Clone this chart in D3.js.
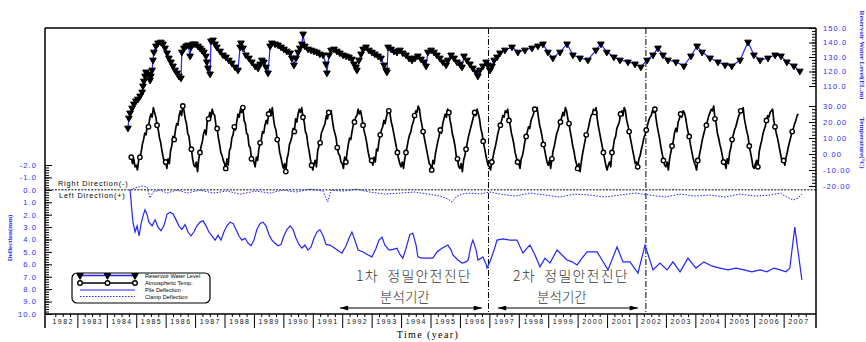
<!DOCTYPE html>
<html><head><meta charset="utf-8">
<script src="https://cdn.jsdelivr.net/npm/d3@7"></script>
<style>body{margin:0;background:#fff;} svg{display:block}</style>
</head><body><svg id="c" width="866" height="342"></svg>
<script>
// ---------------- DATA ----------------
const years = d3.range(1982, 2008);
const levelTicks = [150, 140, 130, 120, 110];
const tempTicks = [30, 20, 10, 0, -10, -20];
const deflTicks = d3.range(-2, 11);

// Reservoir water level [year, EL.m]
const waterLevel = [
[1984.72,81.0],[1984.75,87.9],[1984.79,91.4],[1984.86,94.8],[1984.92,97.6],[1984.99,99.7],[1985.06,101.0],[1985.13,103.1],
[1985.20,105.9],[1985.23,110.0],[1985.26,113.4],[1985.30,116.9],[1985.33,119.7],[1985.40,118.3],[1985.47,114.1],[1985.50,116.9],
[1985.54,121.0],[1985.57,127.9],[1985.60,133.4],[1985.67,137.6],[1985.74,139.7],[1985.84,140.3],[1985.91,139.0],[1985.98,136.2],
[1986.05,132.8],[1986.11,129.3],[1986.18,126.6],[1986.25,123.8],[1986.32,121.0],[1986.39,119.0],[1986.45,116.9],[1986.52,115.5],
[1986.55,133.4],[1986.62,136.2],[1986.69,137.6],[1986.76,138.3],[1986.83,130.7],[1986.86,136.9],[1986.93,139.0],[1987.00,139.0],
[1987.10,137.6],[1987.17,136.2],[1987.23,134.8],[1987.30,133.4],[1987.37,130.7],[1987.40,126.6],[1987.44,122.4],[1987.51,118.3],
[1987.54,141.0],[1987.61,141.7],[1987.68,139.0],[1987.74,136.9],[1987.85,134.1],[1987.95,131.4],[1988.05,130.0],[1988.15,127.9],
[1988.25,125.9],[1988.36,123.1],[1988.46,121.0],[1988.53,136.9],[1988.56,139.7],[1988.63,136.2],[1988.73,131.4],[1988.83,129.3],
[1988.93,126.6],[1989.04,123.8],[1989.14,122.4],[1989.21,125.2],[1989.27,127.9],[1989.34,126.6],[1989.41,123.1],[1989.48,119.0],
[1989.55,137.6],[1989.61,139.7],[1989.72,139.0],[1989.82,138.3],[1989.92,136.9],[1990.02,135.5],[1990.12,134.1],[1990.23,132.8],
[1990.29,129.3],[1990.36,124.5],[1990.43,129.3],[1990.50,133.4],[1990.56,136.2],[1990.63,139.0],[1990.67,145.9],[1990.73,137.6],
[1990.84,135.5],[1990.94,134.8],[1991.04,134.1],[1991.14,133.4],[1991.24,132.1],[1991.35,131.4],[1991.45,125.2],[1991.48,119.0],
[1991.55,131.4],[1991.62,134.8],[1991.72,135.5],[1991.82,134.1],[1991.92,132.8],[1992.03,131.4],[1992.13,130.7],[1992.23,130.0],
[1992.33,128.6],[1992.40,125.2],[1992.47,123.1],[1992.50,121.0],[1992.57,127.9],[1992.64,132.1],[1992.71,135.5],[1992.81,136.9],
[1992.91,134.8],[1993.01,133.4],[1993.11,132.1],[1993.22,130.7],[1993.32,129.3],[1993.42,124.5],[1993.49,121.0],[1993.52,119.7],
[1993.56,136.9],[1993.66,135.5],[1993.76,134.1],[1993.86,133.4],[1993.96,134.8],[1994.06,132.8],[1994.17,131.4],[1994.27,129.3],
[1994.37,127.9],[1994.47,129.3],[1994.57,130.7],[1994.68,128.6],[1994.78,126.6],[1994.85,123.8],[1994.91,133.4],[1995.02,134.8],
[1995.12,133.4],[1995.22,131.4],[1995.32,129.3],[1995.42,126.6],[1995.53,124.5],[1995.59,127.9],[1995.70,131.4],[1995.80,129.3],
[1995.90,126.6],[1996.00,125.2],[1996.07,123.1],[1996.14,130.7],[1996.24,127.9],[1996.34,125.2],[1996.44,122.4],[1996.55,119.7],
[1996.61,116.9],[1996.68,121.0],[1996.78,123.8],[1996.89,126.6],[1996.95,124.5],[1997.02,121.0],[1997.09,123.8],[1997.16,127.9],
[1997.26,130.0],[1997.36,132.8],
[1997.53,134.8],[1997.77,136.9],[1997.97,133.4],[1998.21,134.8],[1998.45,136.2],[1998.65,137.6],[1998.82,139.0],[1998.99,133.4],
[1999.16,129.3],[1999.40,133.4],[1999.64,139.0],[1999.84,131.4],[2000.08,129.3],[2000.35,127.9],[2000.62,134.8],[2000.79,139.0],
[2000.99,133.4],[2001.23,130.0],[2001.44,127.9],[2001.71,126.6],[2001.95,125.2],[2002.15,123.1],[2002.36,127.9],[2002.56,131.4],
[2002.73,136.2],[2002.90,131.4],[2003.07,127.9],[2003.34,126.6],[2003.61,123.8],[2003.85,130.7],[2004.06,137.6],[2004.23,133.4],
[2004.50,129.3],[2004.77,126.6],[2005.01,124.5],[2005.24,123.8],[2005.52,127.9],[2005.79,140.3],[2005.99,131.4],[2006.20,127.9],
[2006.47,129.3],[2006.71,131.4],[2006.91,130.7],[2007.11,126.6],[2007.35,123.8],[2007.55,120.3]
];

// Atmospheric temperature (deg C), twice a month from Nov 1984
const tempStart = 1984.833;
const tempStep = 1 / 24;
const temperature = [
-2,-6,-3,-8,
-7,-10,-4,-2,1,6,9,13,12,18,17,22,25,23,29,26,23,18,15,10,7,2,-2,-6,
-5,-9,-3,-6,2,5,11,9,15,19,18,24,27,24,30,27,22,19,13,11,5,3,-3,-7,
-8,-5,-11,-3,1,5,8,13,15,12,21,22,26,23,28,25,24,18,16,10,6,1,-1,-4,
-6,-9,-3,-7,2,4,10,12,17,15,20,25,23,28,26,29,21,19,13,12,5,4,-3,-2,
-5,-8,-2,-4,3,7,9,14,13,18,21,19,25,28,24,29,22,17,15,9,7,1,-2,-6,
-9,-6,-11,-3,0,6,8,11,16,14,22,20,25,28,26,29,23,20,14,12,6,2,-3,-7,
-10,-6,-4,-8,2,5,7,13,15,17,19,24,22,26,25,27,21,16,13,10,4,0,-1,-5,
-6,-9,-2,-5,1,6,10,9,14,18,20,23,24,28,25,27,23,18,14,11,7,2,-2,-4,
-4,-7,-2,-5,3,2,8,12,15,17,21,19,23,26,27,25,20,17,13,9,5,1,-3,-6,
-8,-5,-9,-3,1,5,9,12,14,18,20,24,27,26,30,28,22,18,14,10,6,2,-2,-6,
-7,-10,-4,-6,0,4,8,11,15,13,19,22,25,23,28,26,21,17,12,9,5,-1,-3,-8,
-9,-6,-11,-4,-1,3,7,11,14,17,20,23,26,24,28,25,22,16,13,8,4,0,-4,-7,
-8,-10,-5,-2,2,5,9,13,16,18,21,24,23,27,26,28,21,18,13,10,6,1,-2,-5,
-6,-9,-3,-1,3,8,11,14,17,16,21,23,25,28,27,29,23,18,15,11,6,3,-1,-5,
-7,-4,-9,-3,2,5,9,13,15,18,20,23,26,24,29,27,22,19,14,10,5,2,-3,-6,
-9,-6,-11,-5,0,4,8,12,14,17,21,24,25,28,26,29,22,17,13,9,5,1,-3,-7,
-10,-7,-5,-8,1,4,9,11,16,18,20,25,27,24,29,27,21,18,14,10,6,2,-2,-6,
-5,-8,-3,-1,3,6,10,12,15,18,21,23,24,27,26,28,22,17,13,9,4,0,-4,-7,
-8,-5,-10,-3,1,5,8,13,16,14,20,22,25,23,27,26,23,18,14,11,6,2,-2,-5,
-7,-10,-4,-2,2,6,10,13,16,18,21,24,26,28,27,30,22,19,13,10,6,3,-1,-5,
-6,-9,-3,-6,1,4,9,12,15,17,20,23,25,27,26,29,22,18,14,11,5,1,-3,-8,
-9,-6,-4,-8,1,5,8,12,15,17,21,24,23,26,27,28,21,17,13,10,6,2,-2,-5,
-4,-7,-2,1,5,8,11,14,16,19,21,24,25
];

// Pile deflection [year, mm]
const pileDeflection = [
[1984.79,0.0],[1984.82,0.8],[1984.86,1.9],[1984.89,2.6],[1984.96,3.4],[1985.03,2.9],[1985.10,3.7],[1985.16,2.8],
[1985.23,2.1],[1985.30,1.6],[1985.37,2.0],[1985.43,2.6],[1985.54,2.9],[1985.64,2.4],[1985.74,3.0],[1985.84,3.3],
[1985.94,2.9],[1986.05,1.95],[1986.15,1.8],[1986.25,1.95],[1986.35,2.4],[1986.45,2.9],[1986.55,3.2],[1986.66,2.8],
[1986.76,3.4],[1986.86,3.7],[1986.96,3.4],[1987.06,2.9],[1987.17,2.6],[1987.27,2.5],[1987.37,2.9],[1987.47,3.4],
[1987.57,3.7],[1987.68,4.05],[1987.78,3.65],[1987.88,4.05],[1987.98,3.4],[1988.08,2.9],[1988.19,2.6],[1988.29,2.7],
[1988.39,3.2],[1988.49,3.7],[1988.59,4.05],[1988.70,3.9],[1988.80,4.3],[1988.90,4.5],[1989.00,4.05],[1989.10,3.2],
[1989.21,2.7],[1989.31,2.6],[1989.41,2.9],[1989.51,3.6],[1989.61,4.05],[1989.72,4.3],[1989.82,4.5],[1989.92,4.4],
[1990.02,3.7],[1990.12,3.2],[1990.23,2.9],[1990.33,3.2],[1990.43,3.9],[1990.53,4.4],[1990.63,4.7],[1990.73,4.45],
[1990.84,4.85],[1990.94,4.6],[1991.04,3.9],[1991.14,3.4],[1991.24,3.2],[1991.35,3.7],[1991.45,4.4],[1991.58,4.45],
[1991.75,4.7],[1991.99,5.1],[1992.13,4.5],[1992.23,3.9],[1992.33,3.4],[1992.43,4.05],[1992.54,4.85],[1992.71,5.0],
[1992.88,5.25],[1993.01,5.4],[1993.15,4.7],[1993.25,4.05],[1993.35,3.8],[1993.45,4.45],[1993.59,4.85],[1993.73,4.8],
[1993.86,4.7],[1993.96,5.2],[1994.06,5.5],[1994.17,4.7],[1994.30,3.6],[1994.40,3.5],[1994.51,4.45],[1994.57,5.4],
[1994.71,5.5],[1994.88,5.5],[1995.08,5.5],[1995.22,5.0],[1995.39,4.7],[1995.59,4.45],[1995.70,4.85],[1995.76,5.25],
[1995.93,5.65],[1996.07,5.9],[1996.21,5.8],[1996.28,5.65],[1996.38,4.45],[1996.44,4.05],[1996.55,4.85],[1996.61,5.65],
[1996.72,5.5],[1996.78,5.4],[1996.89,6.0],[1996.92,6.3],[1997.02,5.8],[1997.16,4.85],[1997.26,4.05],[1997.46,3.95],
[1997.70,4.05],[1997.94,4.05],[1998.14,5.1],[1998.28,4.7],[1998.38,4.45],[1998.55,5.25],[1998.72,6.2],[1998.89,5.5],
[1999.06,5.9],[1999.30,4.85],[1999.47,5.25],[1999.64,5.65],[1999.81,5.8],[1999.98,6.05],[2000.15,5.5],[2000.32,5.0],
[2000.66,5.0],[2000.83,5.65],[2001.03,6.45],[2001.34,4.6],[2001.54,5.8],[2001.78,5.8],[2002.05,6.7],[2002.29,4.45],
[2002.56,6.45],[2002.80,5.9],[2003.04,6.45],[2003.24,5.8],[2003.48,6.6],[2003.75,5.5],[2004.02,6.3],[2004.29,5.8],
[2004.57,6.15],[2004.84,6.3],[2005.11,6.45],[2005.38,6.3],[2005.65,6.45],[2005.92,6.6],[2006.20,6.45],[2006.43,6.6],
[2006.67,6.3],[2006.88,6.45],[2007.08,6.6],[2007.21,6.3],[2007.38,3.0],[2007.62,7.25]
];

// Clamp deflection [year, mm]
const clampDeflection = [
[1984.79,0.02],[1984.96,-0.15],[1985.20,-0.31],[1985.37,-0.23],[1985.47,0.66],[1985.57,0.18],[1985.81,0.02],[1986.05,0.26],
[1986.39,0.02],[1986.73,0.26],[1987.17,0.02],[1987.61,0.26],[1988.08,0.10],[1988.53,0.34],[1989.07,0.10],[1989.54,0.26],
[1989.99,0.02],[1990.43,0.18],[1990.90,-0.06],[1991.35,0.10],[1991.51,0.98],[1991.62,0.02],[1992.03,0.10],[1992.50,-0.06],
[1992.94,0.18],[1993.45,0.34],[1993.96,0.26],[1994.47,0.18],[1994.91,0.34],[1995.32,0.50],[1995.59,0.74],[1995.73,0.98],
[1995.87,0.58],[1996.07,0.34],[1996.34,0.26],[1996.68,0.34],[1997.02,0.18],[1997.36,0.34],[1997.87,0.50],[1998.38,0.26],
[1998.89,0.42],[1999.40,0.58],[1999.91,0.34],[2000.42,0.42],[2000.93,0.58],[2001.44,0.42],[2001.95,0.26],[2002.46,0.42],
[2002.97,0.58],[2003.48,0.34],[2003.99,0.50],[2004.50,0.42],[2005.01,0.58],[2005.52,0.34],[2006.03,0.50],[2006.54,0.42],
[2006.88,0.26],[2007.11,0.58],[2007.32,0.82],[2007.49,0.66],[2007.62,0.34]
];

const periods = [
  {title: "1차  정밀안전진단", sub: "분석기간", from: 1991.92, to: 1996.75},
  {title: "2차  정밀안전진단", sub: "분석기간", from: 1997.29, to: 2002.05}
];
const periodLines = [1996.97, 2002.32];

const legendItems = [
  {label: "Reservoir Water Level", kind: "level"},
  {label: "Atmospheric Temp.", kind: "temp"},
  {label: "Pile Deflection", kind: "pile"},
  {label: "Clamp Deflection", kind: "clamp"}
];

// ---------------- DRAW ----------------
const BLUE = "#2323ff";
const LBL = "#2a2aff";
const svg = d3.select("#c");
const L = 45, R = 816, T = 28, B = 314;

const x = d3.scaleLinear().domain([1981.9, 2008.1]).range([L, R]);
const yDefl = d3.scaleLinear().domain([-2, 10]).range([165, B]);
const yLevel = d3.scaleLinear().domain([150, 110]).range([T, 86]);
const yTemp = d3.scaleLinear().domain([30, -20]).range([106, 186]);

const tickFont = "Liberation Sans, Arial, sans-serif";

// frame
svg.append("line").attr("x1", L).attr("x2", R).attr("y1", T).attr("y2", T).attr("stroke", "#000").attr("stroke-width", 1.5);
svg.append("line").attr("x1", L).attr("x2", R).attr("y1", B).attr("y2", B).attr("stroke", "#000").attr("stroke-width", 1.3);
svg.append("line").attr("x1", L).attr("x2", L).attr("y1", T).attr("y2", 328).attr("stroke", "#000").attr("stroke-width", 1.5);
svg.append("line").attr("x1", R).attr("x2", R).attr("y1", T).attr("y2", 328).attr("stroke", "#000").attr("stroke-width", 1.5);

function styleAxis(g, color) {
  g.select(".domain").remove();
  g.selectAll("line").attr("stroke", "#000").attr("stroke-width", 1);
  g.selectAll("text").attr("fill", color).attr("font-family", tickFont).attr("font-size", 7.5).attr("letter-spacing", 1.1);
}

// left deflection axis
const gL = svg.append("g").attr("transform", `translate(${L},0)`);
gL.append("g").call(d3.axisLeft(yDefl).tickValues(d3.range(-2, 10.01, 0.2)).tickSize(-4).tickFormat("")).call(g => styleAxis(g, LBL));
gL.append("g").call(d3.axisLeft(yDefl).tickValues(deflTicks).tickSize(-7).tickPadding(8).tickFormat(d3.format(".1f")))
  .call(g => styleAxis(g, LBL));
gL.selectAll("text").text(function(){ return this.textContent.replace("−", "-"); });

// right level / temperature axes
const gR = svg.append("g").attr("transform", `translate(${R},0)`);
gR.append("g").call(d3.axisRight(yLevel).tickValues(d3.range(110, 150.01, 2)).tickSize(-4).tickFormat("")).call(g => styleAxis(g, LBL));
gR.append("g").call(d3.axisRight(yLevel).tickValues(levelTicks).tickSize(-7).tickPadding(7).tickFormat(d3.format(".1f")))
  .call(g => styleAxis(g, LBL));
gR.append("g").call(d3.axisRight(yTemp).tickValues(d3.range(-20, 30.01, 2)).tickSize(-4).tickFormat("")).call(g => styleAxis(g, LBL));
gR.append("g").call(d3.axisRight(yTemp).tickValues(tempTicks).tickSize(-7).tickPadding(7).tickFormat(d3.format(".2f")))
  .call(g => styleAxis(g, LBL));
gR.selectAll("text").text(function(){ return this.textContent.replace("−", "-"); });

// bottom year axis
const gB = svg.append("g").attr("transform", `translate(0,${B})`);
const quarters = [];
years.forEach(yr => { quarters.push(yr + 0.25, yr + 0.5, yr + 0.75); });
gB.append("g").call(d3.axisBottom(x).tickValues(quarters).tickSize(3).tickFormat("")).call(g => styleAxis(g, "#000"));
gB.append("g").call(d3.axisBottom(x).tickValues(years.slice(1)).tickSize(14).tickFormat("")).call(g => styleAxis(g, "#000"));
gB.append("g").call(d3.axisBottom(x).tickValues(years.map(yr => yr + 0.5)).tickSize(0).tickPadding(5).tickFormat(d => String(Math.floor(d))))
  .call(g => styleAxis(g, "#111"))
  .call(g => g.selectAll("text").attr("font-size", 7).attr("letter-spacing", 1.4));

svg.append("text").attr("x", 428).attr("y", 338).attr("text-anchor", "middle")
  .attr("font-family", "Liberation Serif, Times New Roman, serif").attr("font-size", 10).attr("letter-spacing", 1.4)
  .text("Time (year)");

// axis titles
svg.append("text").attr("transform", "translate(12,238) rotate(-90)").attr("text-anchor", "middle")
  .attr("font-family", "Liberation Serif, serif").attr("font-weight", "bold").attr("font-size", 7).attr("fill", LBL)
  .text("Deflection(mm)");
svg.append("text").attr("transform", "translate(860,55) rotate(90)").attr("text-anchor", "middle")
  .attr("font-family", "Liberation Serif, serif").attr("font-weight", "bold").attr("font-size", 7).attr("fill", LBL)
  .text("Reservoir Water Level(EL.m)");
svg.append("text").attr("transform", "translate(860,143) rotate(90)").attr("text-anchor", "middle")
  .attr("font-family", "Liberation Serif, serif").attr("font-weight", "bold").attr("font-size", 7).attr("fill", LBL)
  .text("Temperature(°C)");

// zero line and direction labels
svg.append("line").attr("x1", L).attr("x2", R).attr("y1", yDefl(0)).attr("y2", yDefl(0))
  .attr("stroke", "#000").attr("stroke-width", 1).attr("stroke-dasharray", "2,1.3");
svg.append("text").attr("x", 58).attr("y", yDefl(0) - 3.5).attr("font-family", tickFont).attr("font-size", 7.2).attr("letter-spacing", 0.9)
  .text("Right Direction(-)");
svg.append("text").attr("x", 59).attr("y", yDefl(0) + 8).attr("font-family", tickFont).attr("font-size", 7.2).attr("letter-spacing", 0.9)
  .text("Left Direction(+)");

// period separator lines
svg.selectAll(".sep").data(periodLines).join("line").attr("class", "sep")
  .attr("x1", d => x(d)).attr("x2", d => x(d)).attr("y1", T).attr("y2", B)
  .attr("stroke", "#000").attr("stroke-width", 1).attr("stroke-dasharray", "6,2,1,2");

// water level
const triPath = d3.symbol(d3.symbolTriangle, 19)();
svg.append("path").datum(waterLevel)
  .attr("d", d3.line().x(d => x(d[0])).y(d => yLevel(d[1])))
  .attr("fill", "none").attr("stroke", BLUE).attr("stroke-width", 1.2);
svg.append("g").selectAll("path").data(waterLevel).join("path")
  .attr("d", triPath).attr("transform", d => `translate(${x(d[0])},${yLevel(d[1])}) rotate(180)`)
  .attr("fill", "#000").attr("stroke", "#000").attr("stroke-width", 1);

// temperature
const tempPts = temperature.map((t, i) => [tempStart + i * tempStep, t]);
svg.append("path").datum(tempPts)
  .attr("d", d3.line().x(d => x(d[0])).y(d => yTemp(d[1])))
  .attr("fill", "none").attr("stroke", "#000").attr("stroke-width", 1.7).attr("stroke-linejoin", "round");
svg.append("g").selectAll("circle").data(tempPts.filter((d, i) => i % 7 === 0)).join("circle")
  .attr("cx", d => x(d[0])).attr("cy", d => yTemp(d[1])).attr("r", 2.2)
  .attr("fill", "#fff").attr("stroke", "#000").attr("stroke-width", 1.4);

// deflections
svg.append("path").datum(pileDeflection)
  .attr("d", d3.line().x(d => x(d[0])).y(d => yDefl(d[1])))
  .attr("fill", "none").attr("stroke", BLUE).attr("stroke-width", 1.2);
svg.append("path").datum(clampDeflection)
  .attr("d", d3.line().x(d => x(d[0])).y(d => yDefl(d[1])))
  .attr("fill", "none").attr("stroke", BLUE).attr("stroke-width", 1).attr("stroke-dasharray", "1.5,1.5");

// period annotations
const kFont = "Noto Sans CJK KR, sans-serif";
const defs = svg.append("defs");
["s", "e"].forEach(k => {
  defs.append("marker").attr("id", "ah" + k).attr("viewBox", "0 0 10 6").attr("refX", 10).attr("refY", 3)
    .attr("markerWidth", 9).attr("markerHeight", 5).attr("markerUnits", "userSpaceOnUse")
    .attr("orient", k === "s" ? "auto-start-reverse" : "auto")
    .append("path").attr("d", "M0,0 L10,3 L0,6 Z").attr("fill", "#000");
});
const gP = svg.append("g").selectAll("g").data(periods).join("g");
gP.append("line").attr("x1", d => x(d.from)).attr("x2", d => x(d.to)).attr("y1", 308).attr("y2", 308)
  .attr("stroke", "#000").attr("stroke-width", 1.2)
  .attr("marker-start", "url(#ahs)").attr("marker-end", "url(#ahe)");
gP.append("text").attr("x", d => (x(d.from) + x(d.to)) / 2 + 3).attr("y", 281)
  .attr("text-anchor", "middle").attr("font-family", kFont).attr("font-weight", 300).attr("font-size", 14).attr("letter-spacing", 1.2).attr("fill", "#333")
  .style("white-space", "pre").text(d => d.title);
gP.append("text").attr("x", d => (x(d.from) + x(d.to)) / 2 - 6).attr("y", 302)
  .attr("text-anchor", "middle").attr("font-family", kFont).attr("font-weight", 300).attr("font-size", 13.5).attr("fill", "#333")
  .text(d => d.sub);

// legend
const gLeg = svg.append("g");
gLeg.append("rect").attr("x", 72).attr("y", 273).attr("width", 138).attr("height", 30).attr("rx", 5)
  .attr("fill", "#fff").attr("stroke", "#000").attr("stroke-width", 1.2);
const legRows = [275.5, 283, 290, 296.5];
const lx = d3.scaleLinear().domain([0, 1]).range([80, 135]);
legendItems.forEach((it, i) => {
  const yy = legRows[i];
  const ln = gLeg.append("line").attr("x1", lx(0)).attr("x2", lx(1)).attr("y1", yy).attr("y2", yy);
  if (it.kind === "level") {
    ln.attr("stroke", BLUE).attr("stroke-width", 1.5);
    [0, 0.5, 1].forEach(f => gLeg.append("path").attr("d", triPath)
      .attr("transform", `translate(${lx(f)},${yy}) rotate(180)`).attr("fill", "#000").attr("stroke", "#000"));
  } else if (it.kind === "temp") {
    ln.attr("stroke", "#000").attr("stroke-width", 1.3);
    [0, 0.5, 1].forEach(f => gLeg.append("circle").attr("cx", lx(f)).attr("cy", yy).attr("r", 2.3)
      .attr("fill", "#fff").attr("stroke", "#000").attr("stroke-width", 1.4));
  } else if (it.kind === "pile") {
    ln.attr("stroke", BLUE).attr("stroke-width", 1.2);
  } else {
    ln.attr("stroke", BLUE).attr("stroke-width", 1).attr("stroke-dasharray", "1.5,1.5");
  }
  gLeg.append("text").attr("x", 145).attr("y", yy + 2).attr("font-family", tickFont).attr("font-size", 5.6)
    .text(it.label);
});
</script>
</body></html>
